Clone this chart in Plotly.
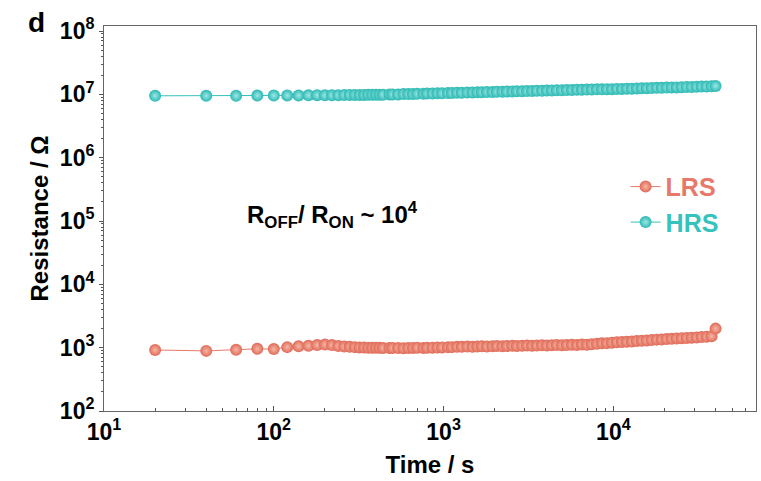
import plotly.graph_objects as go

# ---- data ----
time_s = [20, 40, 60, 80, 100, 120, 140, 160, 180, 200,
          220, 240, 260, 280, 300, 320, 340, 360, 380,
          400, 420, 440, 480, 500, 540, 580, 620, 660, 700,
          760, 800, 860, 920, 980, 1060, 1120, 1200, 1280, 1380,
          1480, 1580, 1680, 1800, 1940, 2060, 2220, 2360, 2540, 2700,
          2900, 3100, 3320, 3540, 3800, 4060, 4340, 4640, 4980, 5320,
          5700, 6100, 6520, 6980, 7460, 8000, 8560, 9160, 9800, 10480,
          11220, 12000, 12840, 13740, 14700, 15720, 16820, 18000, 19260, 20600,
          22040, 23580, 25240, 27000, 28900, 30920, 33080, 35400, 37880, 40000]

lrs_ohm = [920, 890, 930, 960, 950, 1020, 1050, 1070, 1100, 1120,
           1100, 1060, 1040, 1030, 1020, 1010, 1010, 1000, 1000,
           1000, 1000, 990, 990, 990, 990, 980, 990, 990, 1000,
           990, 1000, 1000, 1010, 1010, 1020, 1020, 1030, 1030, 1040,
           1030, 1040, 1050, 1040, 1050, 1060, 1050, 1060, 1070, 1060,
           1070, 1080, 1070, 1080, 1090, 1080, 1090, 1100, 1090, 1100,
           1110, 1100, 1120, 1110, 1130, 1150, 1170, 1180, 1200, 1220,
           1230, 1240, 1250, 1270, 1290, 1300, 1320, 1340, 1350, 1370,
           1380, 1400, 1410, 1420, 1440, 1450, 1470, 1490, 1520, 2000]

hrs_ohm = [9.5e6, 9.5e6, 9.5e6, 9.6e6, 9.6e6, 9.6e6, 9.6e6, 9.7e6, 9.7e6, 9.7e6,
           9.7e6, 9.7e6, 9.8e6, 9.8e6, 9.8e6, 9.8e6, 9.8e6, 9.9e6, 9.9e6,
           9.9e6, 9.9e6, 9.9e6, 1.00e7, 1.00e7, 1.00e7, 1.01e7, 1.01e7, 1.01e7, 1.02e7,
           1.02e7, 1.03e7, 1.03e7, 1.04e7, 1.04e7, 1.05e7, 1.05e7, 1.06e7, 1.06e7, 1.07e7,
           1.07e7, 1.08e7, 1.08e7, 1.09e7, 1.09e7, 1.10e7, 1.10e7, 1.11e7, 1.11e7, 1.12e7,
           1.12e7, 1.13e7, 1.13e7, 1.14e7, 1.14e7, 1.15e7, 1.15e7, 1.16e7, 1.16e7, 1.17e7,
           1.17e7, 1.18e7, 1.18e7, 1.19e7, 1.19e7, 1.20e7, 1.20e7, 1.21e7, 1.21e7, 1.22e7,
           1.22e7, 1.23e7, 1.23e7, 1.24e7, 1.25e7, 1.25e7, 1.26e7, 1.27e7, 1.27e7, 1.28e7,
           1.29e7, 1.29e7, 1.30e7, 1.31e7, 1.31e7, 1.32e7, 1.33e7, 1.33e7, 1.34e7, 1.36e7]

x_tickvals = [10, 100, 1000, 10000]
x_ticktext = ["<b>10<sup>1</sup></b>", "<b>10<sup>2</sup></b>",
              "<b>10<sup>3</sup></b>", "<b>10<sup>4</sup></b>"]
y_tickvals = [1e2, 1e3, 1e4, 1e5, 1e6, 1e7, 1e8]
y_ticktext = ["<b>10<sup>%d</sup></b>" % e for e in range(2, 9)]
x_minor = [m * 10 ** e for e in range(1, 5) for m in range(2, 10)]
y_minor = [m * 10 ** e for e in range(2, 8) for m in range(2, 10)]

LRS_COLOR = "#E8796A"
HRS_COLOR = "#36C2BD"
FONT = "Liberation Sans, Arial, sans-serif"

fig = go.Figure()
fig.add_trace(go.Scatter(
    x=time_s, y=lrs_ohm, mode="lines+markers",
    name="<b><span style='color:%s'>LRS</span></b>" % LRS_COLOR,
    line=dict(color=LRS_COLOR, width=1),
    marker=dict(size=12, color="#E06A58",
                gradient=dict(type="radial", color="#F7B7A6"),
                line=dict(width=0)),
))
fig.add_trace(go.Scatter(
    x=time_s, y=hrs_ohm, mode="lines+markers",
    name="<b><span style='color:%s'>HRS</span></b>" % HRS_COLOR,
    line=dict(color=HRS_COLOR, width=1),
    marker=dict(size=12, color="#2CB8B3",
                gradient=dict(type="radial", color="#9EE8E4"),
                line=dict(width=0)),
))

fig.update_layout(
    width=761, height=481,
    margin=dict(l=104, r=5, t=26, b=70),
    plot_bgcolor="white", paper_bgcolor="white",
    font=dict(family=FONT, color="black", size=20),
    showlegend=True,
    legend=dict(x=0.8, y=0.642, xanchor="left", yanchor="top",
                bgcolor="rgba(0,0,0,0)", font=dict(size=25, family=FONT),
                itemwidth=30, tracegroupgap=0),
    annotations=[
        dict(text="<b>R<sub>OFF</sub>/ R<sub>ON</sub> ~ 10<sup>4</sup></b>",
             x=0.35, y=0.51, xref="paper", yref="paper",
             showarrow=False, font=dict(size=24, family=FONT, color="black")),
        dict(text="<b>d</b>", x=-0.12, y=1.01, xref="paper", yref="paper",
             xanchor="left", yanchor="middle",
             showarrow=False, font=dict(size=28, family=FONT, color="black")),
    ],
)

fig.update_xaxes(
    type="log", range=[1, 4.84], automargin=False,
    tickvals=x_tickvals, ticktext=x_ticktext,
    tickfont=dict(size=23, family=FONT), ticks="inside", ticklen=5,
    tickcolor="#555",
    minor=dict(tickvals=x_minor, ticks="inside", ticklen=3, tickcolor="#555",
               showgrid=False),
    showline=True, linecolor="#666", linewidth=1, mirror=True,
    showgrid=False, zeroline=False,
    title=dict(text="<b>Time / s</b>", font=dict(size=24, family=FONT), standoff=12),
)
fig.update_yaxes(
    type="log", range=[2, 8.08], automargin=False,
    tickvals=y_tickvals, ticktext=y_ticktext,
    tickfont=dict(size=23, family=FONT), ticks="outside", ticklen=4,
    tickcolor="#555",
    minor=dict(tickvals=y_minor, ticks="outside", ticklen=2, tickcolor="#555",
               showgrid=False),
    showline=True, linecolor="#666", linewidth=1, mirror=True,
    showgrid=False, zeroline=False,
    title=dict(text="<b>Resistance / Ω</b>", font=dict(size=24, family=FONT), standoff=4),
)

fig.write_html("out.html", config={"displayModeBar": False},
               post_script="document.body.style.margin='0';")
